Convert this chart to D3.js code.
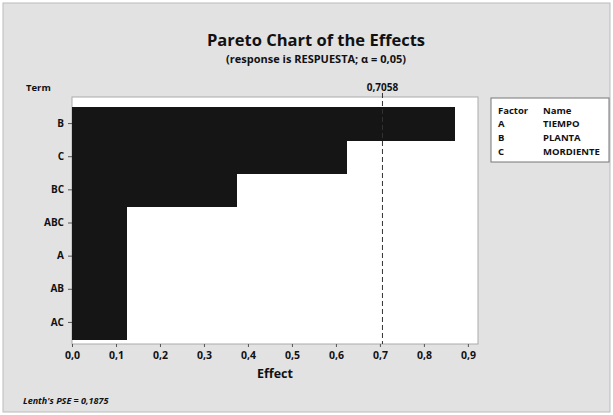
<!DOCTYPE html>
<html><head><meta charset="utf-8">
<script src="https://cdn.jsdelivr.net/npm/d3@7"></script>
<style>body{margin:0;background:#fff}svg{display:block}text{font-family:"Open Sans",sans-serif;font-weight:700;fill:#111}</style>
</head><body><svg id="c" width="613" height="415"></svg>
<script>
const terms = ["B","C","BC","ABC","A","AB","AC"];
const effects = [0.87, 0.625, 0.375, 0.125, 0.125, 0.125, 0.125];
const xTicks = [0,0.1,0.2,0.3,0.4,0.5,0.6,0.7,0.8,0.9];
const refValue = 0.7058;
const legendFactors = ["A","B","C"];
const legendNames = ["TIEMPO","PLANTA","MORDIENTE"];
const fmt = v => d3.format(".1f")(v).replace(".", ",");

const svg = d3.select("#c");
svg.append("rect").attr("x",0).attr("y",0).attr("width",613).attr("height",415).attr("fill","#fff");
svg.append("rect").attr("x",3).attr("y",3).attr("width",607).attr("height",409).attr("fill","#e2e2e2").attr("stroke","#bbb");

const L=72, R=478, T=97, B=344;
const x = d3.scaleLinear().domain([0,0.923]).range([L,R]);
const y = d3.scaleBand().domain(terms).range([107,339]).padding(0);

svg.append("rect").attr("x",L).attr("y",T).attr("width",R-L).attr("height",B-T).attr("fill","#fff").attr("stroke","#aaa");

svg.selectAll("rect.bar").data(terms).enter().append("rect").attr("class","bar")
  .attr("x",x(0)).attr("y",d=>y(d)).attr("width",(d,i)=>x(effects[i])-x(0)).attr("height",y.bandwidth()+0.6)
  .attr("fill","#151515").attr("shape-rendering","crispEdges");

svg.append("line").attr("x1",x(refValue)).attr("x2",x(refValue)).attr("y1",T-4).attr("y2",B)
  .attr("stroke","#333").attr("stroke-width",1).attr("stroke-dasharray","5,3");
svg.append("text").attr("x",x(refValue)).attr("y",91).attr("text-anchor","middle").attr("font-size",10).text("0,7058");

const xa = svg.append("g").attr("transform",`translate(0,${B})`)
  .call(d3.axisBottom(x).tickValues(xTicks).tickFormat(fmt).tickSize(3).tickSizeOuter(0));
xa.select(".domain").remove();
xa.selectAll("line").attr("stroke","#555");
xa.selectAll("text").attr("font-size",10.5).attr("dy","0.9em").style("font-family","'Open Sans',sans-serif").style("font-weight",700).attr("fill","#111");

const ya = svg.append("g").attr("transform",`translate(${L},0)`)
  .call(d3.axisLeft(y).tickSize(4).tickSizeOuter(0).tickPadding(4));
ya.select(".domain").remove();
ya.selectAll("line").attr("stroke","#555");
ya.selectAll("text").attr("font-size",10).style("font-family","'Open Sans',sans-serif").style("font-weight",700).attr("fill","#111");

svg.append("text").attr("x",316).attr("y",46).attr("text-anchor","middle").attr("font-size",16.5).text("Pareto Chart of the Effects");
svg.append("text").attr("x",316).attr("y",63).attr("text-anchor","middle").attr("font-size",11).text("(response is RESPUESTA; α = 0,05)");
svg.append("text").attr("x",26).attr("y",91).attr("font-size",9.5).text("Term");
svg.append("text").attr("x",(L+R)/2).attr("y",378).attr("text-anchor","middle").attr("font-size",12.5).text("Effect");
svg.append("text").attr("x",23).attr("y",404).attr("font-size",9).attr("font-style","italic").text("Lenth's PSE = 0,1875");

const lg = svg.append("g");
lg.append("rect").attr("x",491).attr("y",98).attr("width",118).attr("height",64).attr("fill","#fff").attr("stroke","#777");
lg.append("text").attr("x",498).attr("y",114).attr("font-size",9.5).attr("font-weight",600).text("Factor");
lg.append("text").attr("x",543).attr("y",114).attr("font-size",9.5).attr("font-weight",600).text("Name");
legendFactors.forEach((f,i)=>{
  lg.append("text").attr("x",498).attr("y",127+i*14).attr("font-size",9.5).attr("font-weight",600).text(f);
  lg.append("text").attr("x",543).attr("y",127+i*14).attr("font-size",9.5).attr("font-weight",600).text(legendNames[i]);
});
</script></body></html>
